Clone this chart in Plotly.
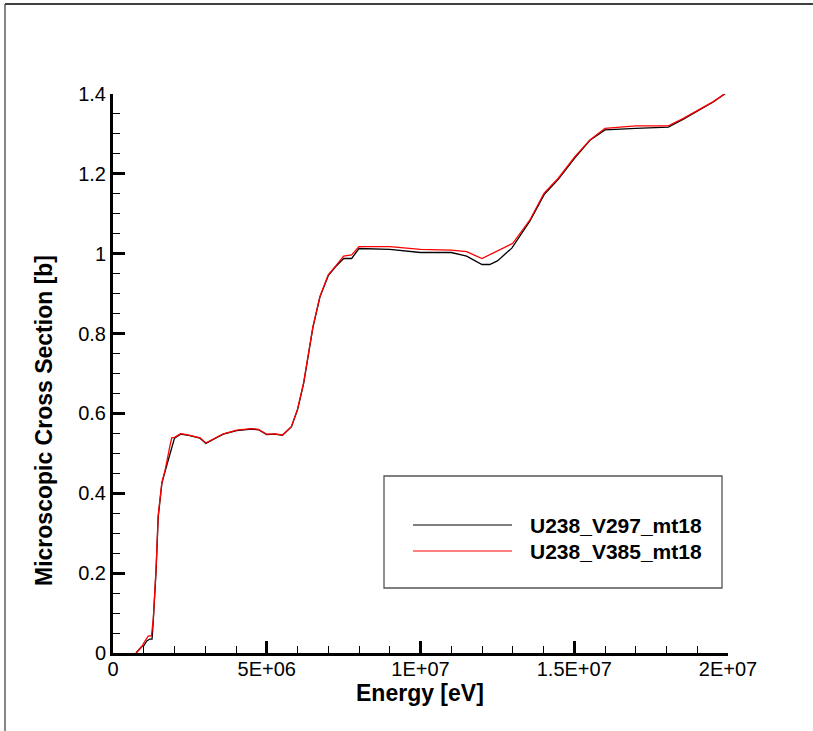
import plotly.graph_objects as go

# Energy in MeV -> converted to eV
e_v297 = [0.75, 0.93, 1.0, 1.1, 1.2, 1.27, 1.31, 1.40, 1.47, 1.59, 1.69, 1.88, 2.0, 2.2, 2.4,
          2.83, 3.02, 3.26, 3.59, 4.02, 4.51, 4.73, 5.0, 5.27, 5.51, 5.8, 6.0, 6.2, 6.5, 6.73,
          7.0, 7.27, 7.5, 7.76, 8.0, 9.0, 10.0, 11.0, 11.5, 12.0, 12.25, 12.5, 12.97, 13.56,
          14.02, 14.48, 15.02, 15.51, 16.0, 17.0, 18.06, 18.55, 19.09, 19.52, 20.0]
xs_v297 = [0.0, 0.016, 0.018, 0.030, 0.035, 0.035, 0.08, 0.205, 0.34, 0.425, 0.454, 0.51, 0.538,
           0.548, 0.546, 0.538, 0.525, 0.535, 0.548, 0.557, 0.561, 0.559, 0.547, 0.548, 0.545,
           0.566, 0.609, 0.675, 0.815, 0.892, 0.945, 0.970, 0.988, 0.988, 1.013, 1.011, 1.003,
           1.003, 0.994, 0.973, 0.973, 0.982, 1.014, 1.082, 1.148, 1.186, 1.240, 1.284, 1.310,
           1.314, 1.317, 1.337, 1.360, 1.380, 1.406]

e_v385 = [0.75, 0.93, 1.0, 1.15, 1.25, 1.31, 1.40, 1.47, 1.59, 1.69, 1.85, 1.91, 2.0, 2.2, 2.4,
          2.83, 3.02, 3.26, 3.59, 4.02, 4.51, 4.73, 5.0, 5.27, 5.51, 5.8, 6.0, 6.2, 6.5, 6.73,
          7.0, 7.27, 7.5, 7.76, 8.0, 9.0, 10.0, 11.0, 11.5, 12.0, 13.0, 13.56, 14.02, 14.48,
          15.02, 15.51, 16.0, 17.0, 18.06, 18.55, 19.09, 19.52, 20.0]
xs_v385 = [0.0, 0.015, 0.025, 0.043, 0.043, 0.085, 0.21, 0.345, 0.428, 0.456, 0.518, 0.539, 0.540,
           0.549, 0.547, 0.539, 0.526, 0.536, 0.549, 0.558, 0.562, 0.560, 0.548, 0.549, 0.546,
           0.567, 0.610, 0.677, 0.817, 0.893, 0.947, 0.972, 0.994, 0.997, 1.018, 1.018, 1.011,
           1.009, 1.005, 0.988, 1.026, 1.085, 1.152, 1.189, 1.243, 1.285, 1.314, 1.320, 1.320,
           1.339, 1.362, 1.381, 1.406]

series_names = ["U238_V297_mt18", "U238_V385_mt18"]
series_colors = ["#000000", "#ff0000"]

x_tickvals = [0, 5e6, 1e7, 1.5e7, 2e7]
x_ticktext = ["0", "5E+06", "1E+07", "1.5E+07", "2E+07"]
y_tickvals = [0, 0.2, 0.4, 0.6, 0.8, 1.0, 1.2, 1.4]
y_ticktext = ["0", "0.2", "0.4", "0.6", "0.8", "1", "1.2", "1.4"]

W, H = 813, 731
L, R, T, B = 113, 85, 94, 78
pw, ph = W - L - R, H - T - B


def px_x(p):
    return (p - L) / pw


def px_y(p):
    return (H - B - p) / ph


fig = go.Figure()
for e, s, name, col in [(e_v297, xs_v297, series_names[0], series_colors[0]),
                        (e_v385, xs_v385, series_names[1], series_colors[1])]:
    fig.add_trace(go.Scatter(x=[v * 1e6 for v in e], y=s, mode="lines", name=name,
                             line=dict(color=col, width=1.3), showlegend=False))

font_family = "Arial, Liberation Sans, Helvetica, sans-serif"

fig.update_layout(
    width=W, height=H,
    margin=dict(l=L, r=R, t=T, b=B, pad=0),
    paper_bgcolor="white", plot_bgcolor="white",
    font=dict(family=font_family, color="black", size=20),
    xaxis=dict(range=[0, 2e7], tickvals=x_tickvals, ticktext=x_ticktext,
               showgrid=False, zeroline=False, showline=True, linecolor="black", linewidth=3,
               ticks="inside", ticklen=12, tickwidth=2.5, tickcolor="black",
               tickfont=dict(size=20, family=font_family), ticklabelstandoff=-4,
               minor=dict(ticks="inside", ticklen=7, tickwidth=1.2, tickcolor="black", dtick=1e6,
                          showgrid=False)),
    yaxis=dict(range=[0, 1.4], tickvals=y_tickvals, ticktext=y_ticktext,
               showgrid=False, zeroline=False, showline=True, linecolor="black", linewidth=3,
               ticks="inside", ticklen=12, tickwidth=2.5, tickcolor="black",
               tickfont=dict(size=20, family=font_family), ticklabelstandoff=0,
               minor=dict(ticks="inside", ticklen=7, tickwidth=1.2, tickcolor="black", dtick=0.05,
                          showgrid=False)),
)

# axis titles
fig.add_annotation(text="<b>Energy [eV]</b>", xref="paper", yref="paper",
                   x=px_x(420), y=px_y(693), showarrow=False,
                   font=dict(size=23, family=font_family), xanchor="center", yanchor="middle")
fig.add_annotation(text="<b>Microscopic Cross Section [b]</b>", xref="paper", yref="paper",
                   x=px_x(44), y=px_y(421), showarrow=False, textangle=-90,
                   font=dict(size=23, family=font_family), xanchor="center", yanchor="middle")

# white strip at the right edge (reference shows no right frame edge)
fig.add_shape(type="rect", xref="paper", yref="paper",
              x0=px_x(798), x1=px_x(813), y0=px_y(731), y1=px_y(6),
              line=dict(width=0), fillcolor="white", layer="above")

# outer frame (top and left edges visible)
fig.add_shape(type="line", xref="paper", yref="paper",
              x0=px_x(5), x1=px_x(813), y0=px_y(4), y1=px_y(4),
              line=dict(color="black", width=1.3), layer="above")
fig.add_shape(type="line", xref="paper", yref="paper",
              x0=px_x(5), x1=px_x(5), y0=px_y(4), y1=px_y(731),
              line=dict(color="#444444", width=1.3), layer="above")

# legend box
fig.add_shape(type="rect", xref="paper", yref="paper",
              x0=px_x(384), x1=px_x(722), y0=px_y(588), y1=px_y(476),
              line=dict(color="#555555", width=1.3), fillcolor="white", layer="above")
leg_y = [525, 551]
for i in range(2):
    fig.add_shape(type="line", xref="paper", yref="paper",
                  x0=px_x(413), x1=px_x(512), y0=px_y(leg_y[i]), y1=px_y(leg_y[i]),
                  line=dict(color=series_colors[i], width=1.2), layer="above")
    fig.add_annotation(text="<b>%s</b>" % series_names[i], xref="paper", yref="paper",
                       x=px_x(528), y=px_y(leg_y[i]), showarrow=False, xanchor="left",
                       yanchor="middle", font=dict(size=21, family=font_family))

fig.write_html("out.html")
